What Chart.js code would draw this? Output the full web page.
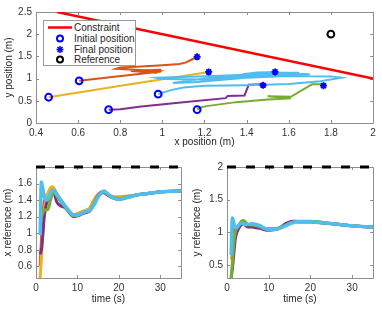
<!DOCTYPE html>
<html>
<head>
<meta charset="utf-8">
<script src="https://cdn.jsdelivr.net/npm/chart.js@4.4.0/dist/chart.umd.min.js"></script>
<style>
  body { margin: 0; background: #fff; }
  #wrap { position: relative; width: 382px; height: 311px; overflow: hidden; font-family: "Liberation Sans", Arial, sans-serif; }
  #wrap canvas { position: absolute; }
  #legend { position: absolute; left: 43px; top: 20px; width: 91px; height: 44px; border: 1px solid #9a9a9a; background: #fff; font-size: 10px; color: #262626; }
  #legend .row { position: absolute; left: 0; height: 11px; line-height: 11px; }
  #legend svg { position: absolute; left: 3px; top: 0; }
  #legend span { position: absolute; left: 30px; top: 0; white-space: nowrap; }
</style>
</head>
<body>
<div id="wrap">
  <canvas id="traj" width="382" height="150" style="left:0;top:0"></canvas>
  <canvas id="xref" width="191" height="161" style="left:0;top:150px"></canvas>
  <canvas id="yref" width="191" height="161" style="left:191px;top:150px"></canvas>
  <div id="legend">
    <div class="row" style="top:1px"><svg width="26" height="11"><line x1="1" y1="5.5" x2="25" y2="5.5" stroke="#ff0000" stroke-width="2.5"/></svg><span>Constraint</span></div>
    <div class="row" style="top:12px"><svg width="26" height="11"><circle cx="13" cy="5.5" r="3" fill="none" stroke="#0000ff" stroke-width="2"/></svg><span>Initial position</span></div>
    <div class="row" style="top:23px"><svg width="26" height="11"><g stroke="#0000ff" stroke-width="1.6"><line x1="13" y1="2" x2="13" y2="9"/><line x1="9.5" y1="5.5" x2="16.5" y2="5.5"/><line x1="10.5" y1="3" x2="15.5" y2="8"/><line x1="15.5" y1="3" x2="10.5" y2="8"/></g></svg><span>Final position</span></div>
    <div class="row" style="top:33px"><svg width="26" height="11"><circle cx="13" cy="5.5" r="3" fill="none" stroke="#000" stroke-width="2"/></svg><span>Reference</span></div>
  </div>
</div>
<script>
// couleurs (ordre par défaut de MATLAB)
const ORANGE = "#D95319";
const YELLOW = "#EDB120";
const PURPLE = "#7E2F8E";
const GREEN = "#77AC30";
const CYAN = "#4DBEEE";
const BLUE = "#0000FF";

// --- graphique du haut : trajectoires dans le plan ---
const constraintX = [0.5, 2];
const constraintY = [2.5, 1];
const initX = [0.605, 0.46, 0.745, 1.165, 0.98];
const initY = [0.95, 0.58, 0.3, 0.3, 0.65];
const finalX = [1.165, 1.22, 1.478, 1.765, 1.535];
const finalY = [1.49, 1.15, 0.85, 0.84, 1.15];
const refX = [1.8];
const refY = [2];

const orangeX = [0.605, 0.75, 0.9, 0.99, 0.99, 0.85, 0.97, 0.99, 0.78, 0.8, 0.9, 1.0, 1.08, 1.11, 1.14, 1.165];
const orangeY = [0.95, 1.03, 1.11, 1.16, 1.2, 1.17, 1.13, 1.17, 1.22, 1.25, 1.27, 1.3, 1.33, 1.36, 1.43, 1.49];
const yellowX = [0.46, 0.84, 1.22];
const yellowY = [0.58, 0.865, 1.15];
const purpleX = [0.745, 0.8, 0.9, 1.1, 1.3, 1.31, 1.39, 1.41, 1.47, 1.478];
const purpleY = [0.3, 0.31, 0.37, 0.47, 0.56, 0.61, 0.62, 0.86, 0.87, 0.85];
const greenX = [1.165, 1.18, 1.21, 1.35, 1.5, 1.61, 1.5, 1.61, 1.71, 1.75, 1.765];
const greenY = [0.3, 0.35, 0.38, 0.47, 0.53, 0.56, 0.6, 0.59, 0.87, 0.87, 0.84];
const cyanX = [0.98, 1.04, 1.1, 1.2, 1.4, 1.6, 1.75, 1.85, 1.8, 1.6, 1.4, 1.2, 1.0, 0.97, 1.05, 1.25, 1.45, 1.6, 1.7, 1.55, 1.35, 1.2, 1.05, 1.15, 1.3, 1.45, 1.6, 1.65, 1.5, 1.38, 1.45, 1.535];
const cyanY = [0.65, 0.74, 0.8, 0.84, 0.85, 0.88, 0.94, 1.02, 1.05, 1.06, 1.02, 0.98, 0.99, 1.02, 1.03, 1.06, 1.1, 1.12, 1.1, 1.08, 1.05, 1.0, 0.9, 0.92, 0.98, 1.04, 1.09, 1.13, 1.13, 1.1, 1.14, 1.15];

const trajXTicks = [0.4, 0.6, 0.8, 1, 1.2, 1.4, 1.6, 1.8, 2];
const trajYTicks = [0, 0.5, 1, 1.5, 2, 2.5];

// --- graphiques du bas : références au cours du temps ---
const temps = [1, 1.3, 1.6, 2, 2.5, 3, 3.5, 4, 4.5, 5, 6, 7, 8, 9, 10, 11, 12, 13, 14, 15, 16, 16.5, 17, 18, 19, 20, 22, 24, 27, 30, 35];
const xRefCyan = [0.98, 1.62, 1.55, 1.45, 1.40, 1.42, 1.48, 1.52, 1.51, 1.47, 1.40, 1.33, 1.27, 1.22, 1.22, 1.24, 1.26, 1.28, 1.34, 1.44, 1.50, 1.51, 1.49, 1.45, 1.42, 1.41, 1.43, 1.46, 1.48, 1.50, 1.51];
const xRefOrange = [0.605, 0.9, 1.2, 1.38, 1.44, 1.48, 1.54, 1.56, 1.52, 1.47, 1.40, 1.33, 1.26, 1.22, 1.23, 1.25, 1.27, 1.30, 1.40, 1.47, 1.50, 1.50, 1.48, 1.45, 1.43, 1.42, 1.44, 1.46, 1.48, 1.50, 1.51];
const xRefYellow = [0.46, 0.7, 1.0, 1.28, 1.42, 1.5, 1.55, 1.56, 1.53, 1.48, 1.40, 1.33, 1.27, 1.22, 1.24, 1.26, 1.28, 1.30, 1.40, 1.46, 1.49, 1.50, 1.48, 1.45, 1.44, 1.44, 1.45, 1.46, 1.48, 1.50, 1.51];
const xRefPurple = [0.745, 0.8, 0.95, 1.2, 1.35, 1.42, 1.47, 1.50, 1.46, 1.38, 1.33, 1.31, 1.25, 1.20, 1.21, 1.23, 1.25, 1.27, 1.35, 1.45, 1.49, 1.49, 1.47, 1.44, 1.42, 1.41, 1.43, 1.46, 1.48, 1.50, 1.51];
const xRefGreen = [1.165, 1.2, 1.24, 1.28, 1.28, 1.3, 1.4, 1.47, 1.49, 1.45, 1.38, 1.32, 1.26, 1.21, 1.22, 1.24, 1.26, 1.28, 1.36, 1.45, 1.49, 1.50, 1.48, 1.45, 1.43, 1.42, 1.44, 1.46, 1.48, 1.50, 1.51];

const yRefCyan = [0.65, 1.22, 1.15, 1.07, 1.08, 1.12, 1.14, 1.13, 1.12, 1.12, 1.13, 1.12, 1.10, 1.06, 1.04, 1.04, 1.05, 1.07, 1.10, 1.13, 1.15, 1.16, 1.16, 1.16, 1.16, 1.16, 1.15, 1.14, 1.12, 1.10, 1.08];
const yRefOrange = [0.95, 1.0, 1.04, 1.06, 1.08, 1.12, 1.15, 1.15, 1.13, 1.11, 1.10, 1.10, 1.08, 1.06, 1.05, 1.05, 1.05, 1.08, 1.12, 1.15, 1.16, 1.16, 1.16, 1.16, 1.16, 1.16, 1.15, 1.14, 1.12, 1.10, 1.08];
const yRefYellow = [0.58, 0.7, 0.85, 0.98, 1.05, 1.1, 1.14, 1.15, 1.13, 1.11, 1.10, 1.09, 1.08, 1.06, 1.05, 1.05, 1.06, 1.08, 1.12, 1.15, 1.16, 1.16, 1.16, 1.16, 1.16, 1.16, 1.15, 1.14, 1.12, 1.10, 1.08];
const yRefPurple = [0.3, 0.45, 0.65, 0.9, 1.02, 1.08, 1.12, 1.13, 1.10, 1.08, 1.08, 1.07, 1.06, 1.04, 1.03, 1.04, 1.05, 1.08, 1.13, 1.16, 1.17, 1.17, 1.16, 1.16, 1.16, 1.16, 1.15, 1.14, 1.12, 1.10, 1.08];
const yRefGreen = [0.3, 0.55, 0.8, 1.0, 1.08, 1.13, 1.17, 1.18, 1.15, 1.12, 1.11, 1.10, 1.08, 1.06, 1.05, 1.05, 1.05, 1.07, 1.10, 1.14, 1.16, 1.17, 1.17, 1.17, 1.17, 1.17, 1.16, 1.14, 1.12, 1.10, 1.08];

// consignes (ligne pointillée noire)
const tempsCible = [0, 35];
const xCible = [1.8, 1.8];
const yCible = [2, 2];

const timeTicks = [0, 10, 20, 30];
const xRefTicks = [0.6, 0.8, 1, 1.2, 1.4, 1.6];
const yRefTicks = [0.5, 1, 1.5, 2];

// assemble deux listes en points {x, y}
function points(xs, ys) {
  return xs.map((x, i) => ({ x: x, y: ys[i] }));
}

// trace le cadre et les graduations intérieures façon MATLAB
const cadreMatlab = {
  id: "cadreMatlab",
  beforeDatasetsDraw(chart) {
    const { ctx, chartArea } = chart;
    const { left, right, top, bottom } = chartArea;
    const sx = chart.scales.x;
    const sy = chart.scales.y;
    ctx.save();
    ctx.strokeStyle = "#8e8e8e";
    ctx.lineWidth = 1;
    ctx.beginPath();
    ctx.rect(Math.round(left) + 0.5, Math.round(top) + 0.5, Math.round(right - left), Math.round(bottom - top));
    for (const t of sx.ticks) {
      const px = Math.round(sx.getPixelForValue(t.value)) + 0.5;
      ctx.moveTo(px, bottom);
      ctx.lineTo(px, bottom - 3);
      ctx.moveTo(px, top);
      ctx.lineTo(px, top + 3);
    }
    for (const t of sy.ticks) {
      const py = Math.round(sy.getPixelForValue(t.value)) + 0.5;
      ctx.moveTo(left, py);
      ctx.lineTo(left + 3, py);
      ctx.moveTo(right, py);
      ctx.lineTo(right - 3, py);
    }
    ctx.stroke();
    ctx.restore();
  },
};

const police = { family: "'Liberation Sans', Arial, sans-serif", size: 10 };

function echelles(o) {
  return {
    x: {
      type: "linear",
      min: o.xMin,
      max: o.xMax,
      grid: { display: false, drawTicks: false },
      border: { display: false },
      afterBuildTicks: (s) => { s.ticks = o.xTicks.map((v) => ({ value: v })); },
      afterFit: (s) => { s.height = o.xHeight; },
      ticks: {
        autoSkip: false,
        maxRotation: 0,
        padding: 4,
        color: "#333",
        font: police,
        callback: (v) => String(+Number(v).toFixed(2)),
      },
      title: { display: true, text: o.xTitle, color: "#262626", font: police, padding: { top: 0, bottom: o.xTitlePad } },
    },
    y: {
      type: "linear",
      min: o.yMin,
      max: o.yMax,
      grid: { display: false, drawTicks: false },
      border: { display: false },
      afterBuildTicks: (s) => { s.ticks = o.yTicks.map((v) => ({ value: v })); },
      afterFit: (s) => { s.width = 36; },
      ticks: {
        autoSkip: false,
        padding: 4,
        color: "#333",
        font: police,
        callback: (v) => String(+Number(v).toFixed(2)),
      },
      title: { display: true, text: o.yTitle, color: "#262626", font: police, padding: { top: o.yTitlePad, bottom: 0 } },
    },
  };
}

function options(padding, scales) {
  return {
    responsive: false,
    animation: false,
    events: [],
    layout: { padding: padding },
    plugins: { legend: { display: false }, tooltip: { enabled: false } },
    scales: scales,
  };
}

function trait(data, color, width, extra) {
  return Object.assign({
    data: data,
    showLine: true,
    borderColor: color,
    borderWidth: width,
    pointRadius: 0,
    fill: false,
  }, extra || {});
}

// graphique du haut
new Chart(document.querySelector("#traj"), {
  type: "scatter",
  data: {
    datasets: [
      { label: "Reference", data: points(refX, refY), pointStyle: "circle", pointRadius: 3.4, borderWidth: 2, borderColor: "#000", backgroundColor: "transparent" },
      { label: "Initial position", data: points(initX, initY), pointStyle: "circle", pointRadius: 3.4, borderWidth: 2, borderColor: BLUE, backgroundColor: "transparent" },
      { label: "Final position", data: points(finalX, finalY), pointStyle: "star", pointRadius: 3.5, borderWidth: 1.8, borderColor: BLUE, backgroundColor: BLUE },
      trait(points(constraintX, constraintY), "#FF0000", 2.5, { label: "Constraint" }),
      trait(points(cyanX, cyanY), CYAN, 2),
      trait(points(greenX, greenY), GREEN, 2),
      trait(points(purpleX, purpleY), PURPLE, 2),
      trait(points(yellowX, yellowY), YELLOW, 2),
      trait(points(orangeX, orangeY), ORANGE, 2),
    ],
  },
  options: options({ left: 0, right: 9, top: 12, bottom: 0 }, echelles({
    xMin: 0.4, xMax: 2, xTicks: trajXTicks, xTitle: "x position (m)", xHeight: 27, xTitlePad: 2,
    yMin: 0, yMax: 2.5, yTicks: trajYTicks, yTitle: "y position (m)", yTitlePad: 3,
  })),
  plugins: [cadreMatlab],
});

// graphique en bas à gauche : x reference
const lisse = { cubicInterpolationMode: "monotone" };
new Chart(document.querySelector("#xref"), {
  type: "scatter",
  data: {
    datasets: [
      trait(points(tempsCible, xCible), "#000", 3, { borderDash: [9, 10], clip: 4 }),
      trait(points(temps, xRefCyan), CYAN, 3.5, lisse),
      trait(points(temps, xRefGreen), GREEN, 3, lisse),
      trait(points(temps, xRefPurple), PURPLE, 3, lisse),
      trait(points(temps, xRefYellow), YELLOW, 3, lisse),
      trait(points(temps, xRefOrange), ORANGE, 3, lisse),
    ],
  },
  options: options({ left: 0, right: 10, top: 17, bottom: 0 }, echelles({
    xMin: 0, xMax: 35, xTicks: timeTicks, xTitle: "time (s)", xHeight: 33, xTitlePad: 6,
    yMin: 0.46, yMax: 1.8, yTicks: xRefTicks, yTitle: "x reference (m)", yTitlePad: 2,
  })),
  plugins: [cadreMatlab],
});

// graphique en bas à droite : y reference
new Chart(document.querySelector("#yref"), {
  type: "scatter",
  data: {
    datasets: [
      trait(points(tempsCible, yCible), "#000", 3, { borderDash: [9, 10], clip: 4 }),
      trait(points(temps, yRefCyan), CYAN, 3.5, lisse),
      trait(points(temps, yRefGreen), GREEN, 3, lisse),
      trait(points(temps, yRefPurple), PURPLE, 3, lisse),
      trait(points(temps, yRefYellow), YELLOW, 3, lisse),
      trait(points(temps, yRefOrange), ORANGE, 3, lisse),
    ],
  },
  options: options({ left: 0, right: 9, top: 17, bottom: 0 }, echelles({
    xMin: 0, xMax: 35, xTicks: timeTicks, xTitle: "time (s)", xHeight: 33, xTitlePad: 6,
    yMin: 0.3, yMax: 2, yTicks: yRefTicks, yTitle: "y reference (m)", yTitlePad: 0,
  })),
  plugins: [cadreMatlab],
});
</script>
</body>
</html>
